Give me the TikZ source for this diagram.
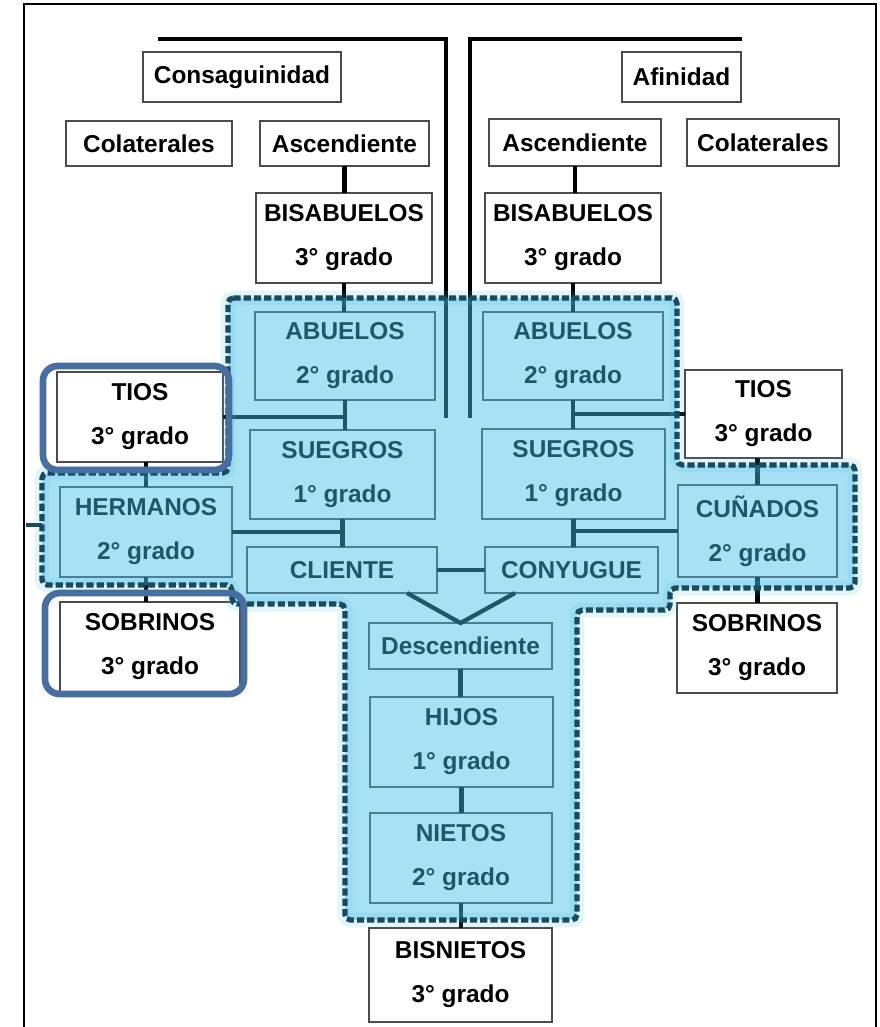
\documentclass[tikz,border=0pt]{standalone}
\usepackage{fontspec}
\setmainfont{Liberation Sans}
\definecolor{ovl}{RGB}{67,189,233}
\definecolor{dteal}{RGB}{26,74,94}
\definecolor{hl}{RGB}{70,110,160}
\newcommand\kbox[6]{\node[boxst, minimum width={(#4-#2)*0.75pt}, minimum height={(#5-#3)*0.75pt}] (#1) at ({(#2+#4)/2},{(#3+#5)/2}) {#6};}
\newcommand\regionpath{(228,298) -- (677,298) -- (677,465) -- (855,465) -- (855,588) -- (670,588) -- (670,610) -- (577,610) -- (577,920) -- (345,920) -- (345,604) -- (232,604) -- (232,585) -- (42,585) -- (42,473) -- (228,473) -- cycle}
\begin{document}
\begin{tikzpicture}[x=0.75pt,y=-0.75pt,
  boxst/.style={draw=black!70, line width=0.9pt, fill=white, inner sep=0pt, outer sep=0pt, align=center, font=\bfseries\fontsize{18.3}{33}\selectfont},
  conn/.style={line width=3.2pt, black},
  bracket/.style={line width=3.6pt, black},
  hlbox/.style={draw=hl, line width=5pt, rounded corners=11pt}]
\useasboundingbox (0,0) rectangle (879,1027);
\fill[white] (0,0) rectangle (879,1027);
% frame
\draw[line width=1.2pt] (24,1027) -- (24,4) -- (876,4) -- (876,1027);
% brackets
\draw[bracket] (158,39) -- (446,39) -- (446,418);
\draw[bracket] (742,39) -- (470,39) -- (470,418);
% boxes
\kbox{cons}{143}{52}{341}{102}{Consaguinidad}
\kbox{col1}{66}{121}{232}{166}{Colaterales}
\kbox{asc1}{260}{121}{429}{166}{Ascendiente}
\kbox{bis1}{256}{193}{432}{283}{BISABUELOS\\3° grado}
\kbox{afi}{622}{52}{741}{102}{Afinidad}
\kbox{asc2}{489}{119}{661}{166}{Ascendiente}
\kbox{col2}{687}{119}{839}{166}{Colaterales}
\kbox{bis2}{485}{193}{661}{283}{BISABUELOS\\3° grado}
\kbox{abu1}{255}{312}{435}{400}{ABUELOS\\2° grado}
\kbox{sue1}{250}{430}{435}{519}{SUEGROS\\1° grado}
\kbox{cli}{247}{547}{437}{593}{CLIENTE}
\kbox{tio1}{57}{372}{223}{462}{TIOS\\3° grado}
\kbox{her}{60}{487}{232}{577}{HERMANOS\\2° grado}
\kbox{sob1}{60}{602}{240}{692}{SOBRINOS\\3° grado}
\kbox{abu2}{483}{312}{663}{400}{ABUELOS\\2° grado}
\kbox{sue2}{482}{429}{665}{519}{SUEGROS\\1° grado}
\kbox{con}{485}{547}{658}{593}{CONYUGUE}
\kbox{tio2}{685}{370}{842}{458}{TIOS\\3° grado}
\kbox{cun}{678}{485}{837}{577}{CUÑADOS\\2° grado}
\kbox{sob2}{677}{603}{837}{693}{SOBRINOS\\3° grado}
\kbox{des}{369}{623}{552}{669}{Descendiente}
\kbox{hij}{370}{697}{553}{787}{HIJOS\\1° grado}
\kbox{nie}{370}{813}{552}{903}{NIETOS\\2° grado}
\kbox{bisn}{369}{928}{552}{1022}{BISNIETOS\\3° grado}
% connectors
\draw[conn] (asc1.south) -- (asc1.south |- bis1.north);
\draw[conn] (asc2.south) -- (asc2.south |- bis2.north);
\draw[conn] (bis1.south) -- (bis1.south |- abu1.north);
\draw[conn] (bis2.south) -- (bis2.south |- abu2.north);
\draw[conn] (abu1.south) -- (abu1.south |- sue1.north);
\draw[conn] (sue1.south) -- (sue1.south |- cli.north);
\draw[conn] (abu2.south) -- (abu2.south |- sue2.north);
\draw[conn] (sue2.south) -- (sue2.south |- con.north);
\draw[conn] (tio1.east) -- (tio1.east -| abu1.south);
\draw[conn] (her.east) -- (her.east -| sue1.south);
\draw[conn] (tio2.west) -- (tio2.west -| abu2.south);
\draw[conn] (cun.west) -- (cun.west -| sue2.south);
\draw[conn] (her.north) -- (her.north |- tio1.south);
\draw[conn] (her.south) -- (her.south |- sob1.north);
\draw[conn] (cun.north) -- (cun.north |- tio2.south);
\draw[conn] (cun.south) -- (cun.south |- sob2.north);
\draw[conn] (cli.east |- 0,570) -- (con.west |- 0,570);
\draw[conn] ([xshift=-22.5pt]cli.south east) -- (des.north) -- ([xshift=22.5pt]con.south west);
\draw[conn] (des.south) -- (des.south |- hij.north);
\draw[conn] (hij.south) -- (hij.south |- nie.north);
\draw[conn] (nie.south) -- (nie.south |- bisn.north);
% glow and overlay region
\draw[ovl, opacity=0.15, line width=11pt, rounded corners=4pt] \regionpath;
\fill[ovl, fill opacity=0.46, rounded corners=4pt] \regionpath;
\draw[dteal, line width=4pt, dash pattern=on 5.4pt off 2.3pt, rounded corners=4pt] \regionpath;
\draw[dteal, line width=3pt] (26,525) -- (42,525);
% highlight boxes
\draw[hlbox] (43,366) rectangle (229,470);
\draw[hlbox] (45,593) rectangle (244,694);
\end{tikzpicture}
\end{document}
